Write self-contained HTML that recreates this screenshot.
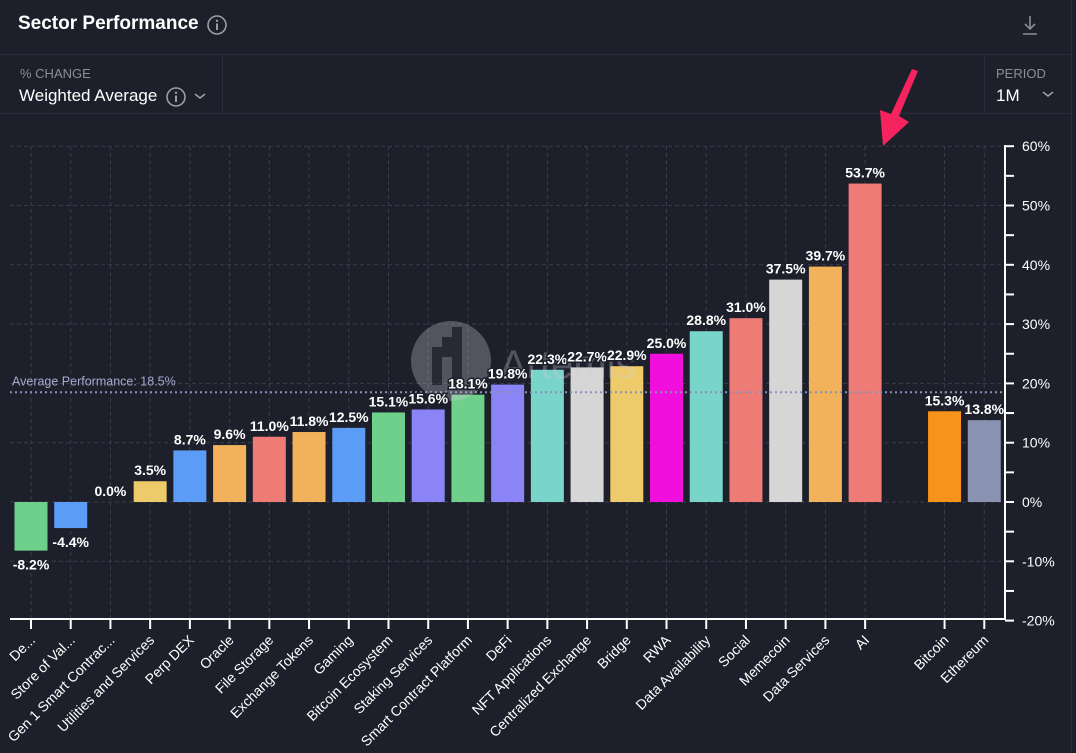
<!DOCTYPE html>
<html><head><meta charset="utf-8"><style>
html,body{margin:0;padding:0;background:#1d1f2a;width:1076px;height:753px;overflow:hidden;font-family:"Liberation Sans",sans-serif;color:#fff}
.abs{position:absolute}
</style></head><body>
<div class="abs" style="left:0;top:0;width:1071px;height:753px;border-right:1px solid #2b2e3a"></div>
<div class="abs" style="left:18px;top:13px;font-size:19px;font-weight:bold">Sector Performance</div>
<svg class="abs" style="left:206px;top:14px" width="22" height="22"><circle cx="11" cy="11" r="9" fill="none" stroke="#9a9ca6" stroke-width="1.6"/><circle cx="11" cy="6.8" r="1.2" fill="#9a9ca6"/><rect x="10" y="9.5" width="2" height="6.5" fill="#9a9ca6"/></svg>
<svg class="abs" style="left:1020px;top:14px" width="20" height="22"><path d="M10 2v13M5 10l5 5 5-5M3 20h14" stroke="#8b8d96" stroke-width="1.6" fill="none"/></svg>
<div class="abs" style="left:0;top:54px;width:1071px;height:1px;background:#2b2e3a"></div>
<div class="abs" style="left:0;top:113px;width:1071px;height:1px;background:#2b2e3a"></div>
<div class="abs" style="left:222px;top:55px;width:1px;height:58px;background:#2b2e3a"></div>
<div class="abs" style="left:984px;top:55px;width:1px;height:58px;background:#2b2e3a"></div>
<div class="abs" style="left:20px;top:66px;font-size:13px;color:#8b8d96">% CHANGE</div>
<div class="abs" style="left:19px;top:86px;font-size:17px">Weighted Average</div>
<svg class="abs" style="left:165px;top:86px" width="22" height="22"><circle cx="11" cy="11" r="9" fill="none" stroke="#9a9ca6" stroke-width="1.6"/><circle cx="11" cy="6.8" r="1.2" fill="#9a9ca6"/><rect x="10" y="9.5" width="2" height="6.5" fill="#9a9ca6"/></svg>
<svg class="abs" style="left:193px;top:90px" width="14" height="12"><path d="M2 4l5 4 5-4" stroke="#9a9ca6" stroke-width="1.6" fill="none"/></svg>
<div class="abs" style="left:996px;top:66px;font-size:13px;color:#8b8d96">PERIOD</div>
<div class="abs" style="left:996px;top:86px;font-size:17px">1M</div>
<svg class="abs" style="left:1041px;top:88px" width="14" height="12"><path d="M2 4l5 4 5-4" stroke="#9a9ca6" stroke-width="1.6" fill="none"/></svg>

<svg id="chart" class="abs" style="left:0;top:0" width="1076" height="753" font-family="Liberation Sans, sans-serif"></svg>
<script>
const categories=["De...","Store of Val...","Gen 1 Smart Contrac...","Utilities and Services","Perp DEX","Oracle","File Storage","Exchange Tokens","Gaming","Bitcoin Ecosystem","Staking Services","Smart Contract Platform","DeFi","NFT Applications","Centralized Exchange","Bridge","RWA","Data Availability","Social","Memecoin","Data Services","AI","","Bitcoin","Ethereum"];
const values=[-8.2,-4.4,0.0,3.5,8.7,9.6,11.0,11.8,12.5,15.1,15.6,18.1,19.8,22.3,22.7,22.9,25.0,28.8,31.0,37.5,39.7,53.7,null,15.3,13.8];
const colors=["#6fd08c","#5b9cf6","#eecb6a","#eecb6a","#5b9cf6","#f2b25b","#ef7b76","#f2b25b","#5b9cf6","#6fd08c","#8b84f7","#6fd08c","#8b84f7","#79d4c9","#d6d6d6","#eecb6a","#f00fdc","#79d4c9","#ef7b76","#d6d6d6","#f2b25b","#ef7b76","#000","#f7931a","#8a92b2"];
const yTicks=[60,50,40,30,20,10,0,-10,-20];
const average=18.5;
const NS="http://www.w3.org/2000/svg";
const svg=document.getElementById('chart');
const y=v=>502-v*5.93;
const x=i=>31+i*39.72;
function mk(t,a){const e=document.createElementNS(NS,t);for(const k in a)e.setAttribute(k,a[k]);svg.appendChild(e);return e;}
yTicks.forEach(t=>{
 if(t>-20){const g=mk('line',{x1:10,x2:1003,y1:y(t),y2:y(t),stroke:'#3a3d4a','stroke-dasharray':'4 3'});
 
 }
});
categories.forEach((c,i)=>{
 if(c==="")return;
 const g=mk('line',{x1:x(i),x2:x(i),y1:146,y2:619,stroke:'#3a3d4a','stroke-dasharray':'4 3'});
 
 
});
categories.forEach((c,i)=>{
 const v=values[i]; if(v===null)return;
 const y0=y(0),y1=y(v);
 if(v!==0){
 const r=mk('rect',{x:x(i)-16.5,y:Math.min(y0,y1),width:33,height:Math.abs(y1-y0),fill:colors[i]});
 
 
 }
});
const al=mk('line',{x1:10,x2:1003,y1:y(average),y2:y(average),stroke:'#8a90b8','stroke-width':2,'stroke-dasharray':'2 3'});


const wm=mk('g',{opacity:0.3});


wm.innerHTML='<circle cx="451" cy="361" r="40" fill="#cfd0d8"/><path d="M432 385v-38h10v-10h10v-10h10v58h-10v-28h-10v28z" fill="#1d1f2a" opacity="0.8"/><text x="500" y="378" font-size="40" fill="#cfd0d8">Artemis</text>';
categories.forEach((c,i)=>{
 const v=values[i]; if(v===null)return;
 const y1=y(v);
 const ty=v>=0?y1-6:y1+19;
 const t=mk('text',{x:x(i),y:ty,'text-anchor':'middle','font-size':14,'font-weight':'bold',fill:'#fff',stroke:'#1d1f2a','stroke-width':3,'paint-order':'stroke'});
 t.textContent=v.toFixed(1)+'%';
 
 
});
const at=mk('text',{x:12,y:y(average)-7,'font-size':12.5,fill:'#a6abd0'});
at.textContent='Average Performance: '+average+'%';


const xa=mk('line',{x1:10,x2:1005,y1:619,y2:619,stroke:'#fff','stroke-width':2});


const ya=mk('line',{x1:1005,x2:1005,y1:145,y2:620,stroke:'#fff','stroke-width':2});


for(let v=60;v>=-20;v-=5){
 const tk=mk('line',{x1:1005,x2:1014,y1:y(v),y2:y(v),stroke:'#fff','stroke-width':2});
 
 
}
yTicks.forEach(t=>{
 const l=mk('text',{x:1022,y:y(t)+5,'font-size':14,fill:'#fff'});
 l.textContent=t+'%';
 
 
});
categories.forEach((c,i)=>{
 if(c==="")return;
 const tk=mk('line',{x1:x(i),x2:x(i),y1:619,y2:629,stroke:'#fff','stroke-width':2});
 
 
 const l=mk('text',{x:x(i)+5,y:641,'font-size':14,fill:'#fff','text-anchor':'end',transform:`rotate(-45 ${x(i)+5} 641)`});
 l.textContent=c;
 
 
});
const ar=mk('path',{d:'M918 71 L899 116 L909 122 L883 146 L880 110 L891 114 L912 69 Z',fill:'#f5245f'});


</script>
</body></html>
